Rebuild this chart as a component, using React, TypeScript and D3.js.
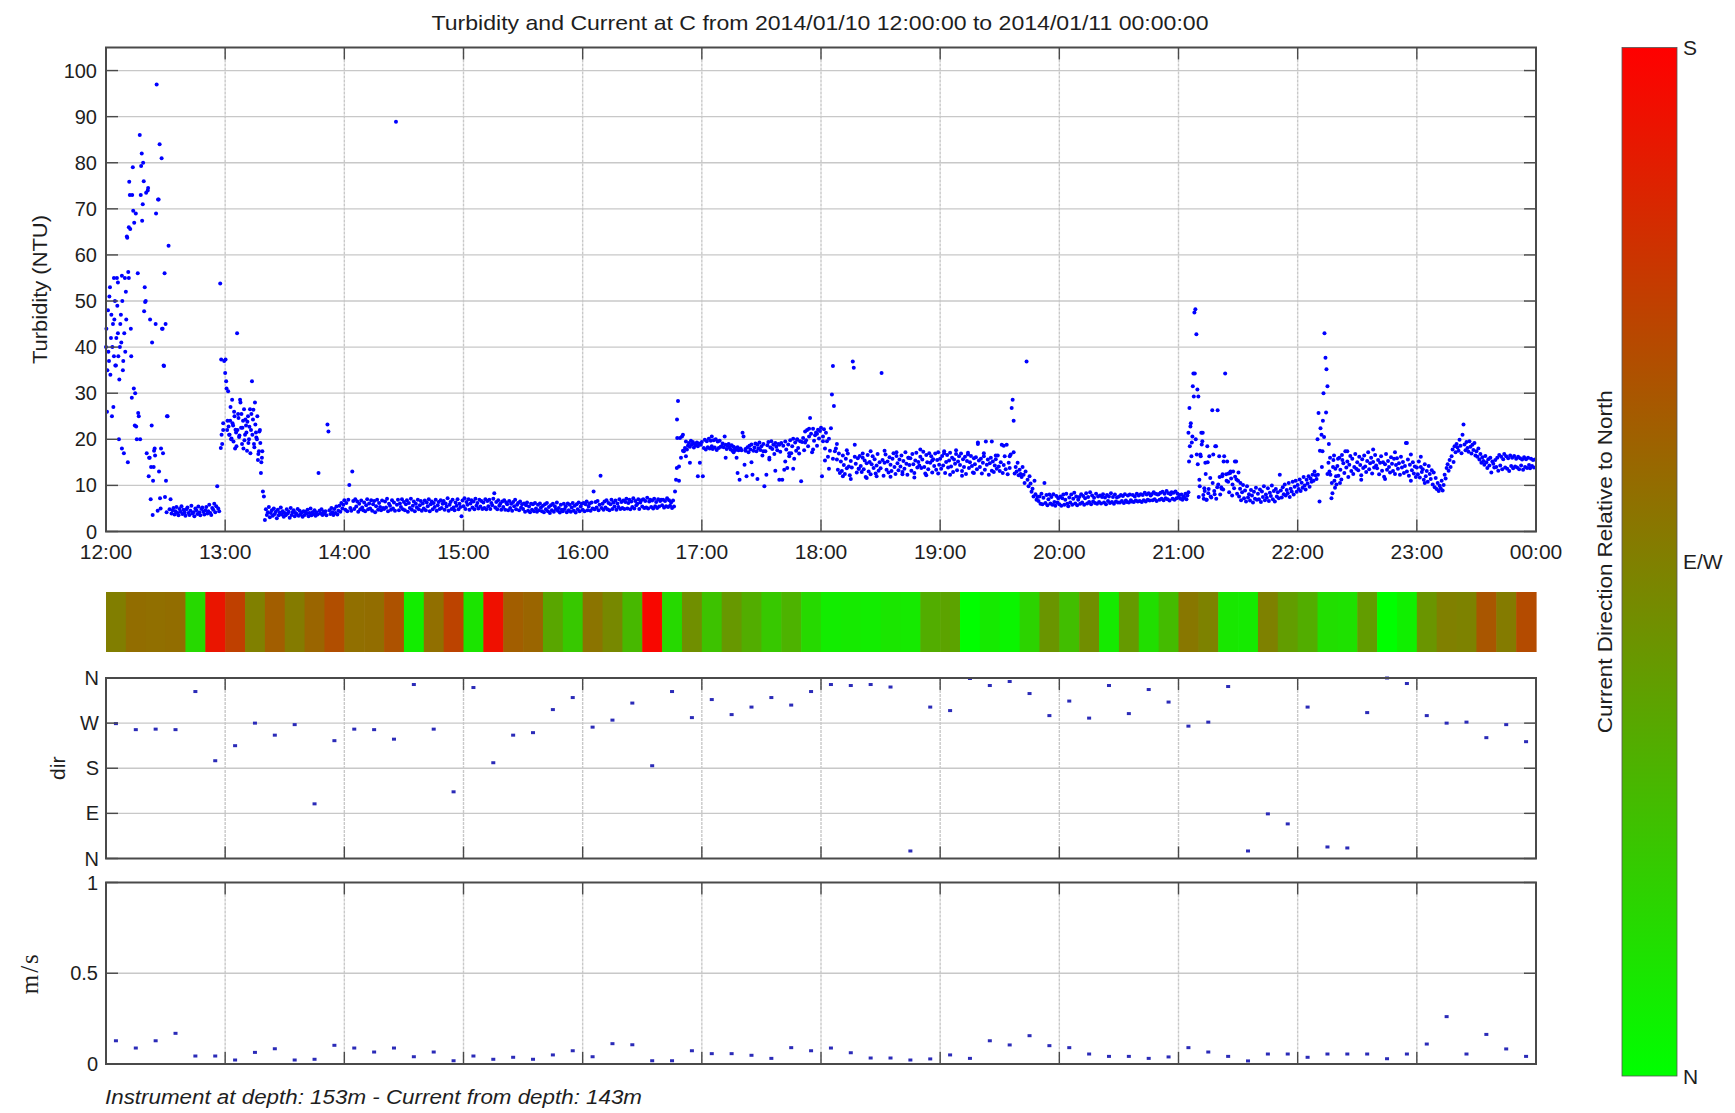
import React from "react";
import * as d3 from "d3";

const TITLE = "Turbidity and Current at C from 2014/01/10 12:00:00 to 2014/01/11 00:00:00";
const FOOTER = "Instrument at depth: 153m - Current from depth: 143m";
const HOUR_LABELS = ["12:00", "13:00", "14:00", "15:00", "16:00", "17:00", "18:00", "19:00", "20:00", "21:00", "22:00", "23:00", "00:00"];
const TURB_TICKS = [0, 10, 20, 30, 40, 50, 60, 70, 80, 90, 100];
const DIR_TICKS = [0, 90, 180, 270, 360];
const DIR_TICK_LABELS = ["N", "E", "S", "W", "N"];
const SPEED_TICKS = [0, 0.5, 1];
const SPEED_TICK_LABELS = ["0", "0.5", "1"];
const COLORBAR_LABELS = ["S", "E/W", "N"];

// turbidity (NTU), one sample every 30 s from 12:00 (rows = 10 minutes)
const TURB_STEP_MIN = 0.5;
const turbidity = [
  40, 26, 48, 37, 53, 42, 25, 45, 38, 50, 36, 55, 43, 20, 40, 47, 18, 35, 17, 55,
  52, 64, 15, 66, 73, 44, 29, 79, 31, 23, 69, 20, 56, 25, 86, 73, 82, 71, 76, 53,
  50, 17, 74, 12, 16, 7, 23, 3.6, 14, 18, 45, 97, 4.5, 72, 84, 5, 81, 44, 36, 56,
  45, 4.2, 25, 62, 4.8, 7, 3.9, 4.6, 5.1, 3.7, 4.4, 5.3, 4.0, 3.5, 4.9, 4.3, 5.5, 3.8, 4.7, 4.1,
  3.4, 4.8, 5.2, 4.0, 3.6, 4.5, 5.6, 3.9, 4.2, 3.3, 5.0, 4.6, 3.8, 5.4, 4.1, 3.5, 4.9, 5.2, 4.3, 3.7,
  4.6, 5.3, 3.9, 4.4, 5.8, 4.0, 3.6, 5.1, 4.7, 6.0, 4.2, 5.5, 9.8, 5.0, 4.4, 53.8, 37.3, 19, 22, 37,
  34.4, 32.6, 22, 30.4, 21, 24, 20, 28.6, 23, 26, 18, 21.5, 43, 25.5, 20.5, 28.6, 22.5, 19, 24, 26.5,
  21, 23, 17.5, 25, 20, 26.5, 22, 32.6, 24.3, 19, 28, 21.5, 20, 15.5, 17.4, 22, 12.7, 16, 8.7, 7.6,
  2.5, 4.8, 3.6, 4.2, 5.3, 3.1, 4.0, 4.6, 3.4, 5.0, 3.8, 4.3, 2.9, 4.7, 3.5, 4.1, 5.2, 3.7, 4.4, 3.2,
  4.0, 3.5, 4.8, 3.9, 4.3, 3.0, 5.1, 3.6, 4.2, 4.6, 3.3, 4.0, 3.8, 4.9, 3.4, 4.5, 3.7, 4.1, 3.2, 4.4,
  3.6, 4.3, 3.9, 4.7, 3.3, 4.0, 5.0, 3.5, 4.2, 3.8, 4.6, 3.4, 4.1, 3.7, 12.7, 4.5, 3.9, 4.8, 3.6, 4.3,
  3.9, 4.4, 3.5, 23.2, 21.7, 4.6, 3.8, 5.1, 4.2, 3.6, 4.9, 4.0, 5.4, 3.7, 4.5, 5.6, 4.3, 6.2, 5.0, 5.8,
  6.8, 4.7, 6.2, 4.4, 6.9, 10.1, 5.1, 4.5, 13.0, 6.6, 4.9, 7.0, 5.4, 6.5, 4.3, 6.0, 4.8, 6.7, 5.2, 4.6,
  6.3, 4.4, 5.7, 7.0, 4.8, 6.1, 5.0, 6.8, 4.5, 5.9, 6.6, 4.2, 5.5, 6.9, 4.7, 6.2, 5.3, 4.6, 6.7, 5.1,
  4.9, 6.5, 5.2, 7.1, 4.4, 6.0, 5.6, 4.7, 6.8, 5.0, 6.3, 4.5, 88.9, 5.8, 6.9, 4.6, 6.1, 5.3, 7.0, 4.8,
  6.4, 4.6, 5.9, 6.8, 4.3, 6.2, 5.1, 7.1, 4.7, 5.6, 6.5, 4.4, 6.0, 5.2, 6.9, 4.8, 5.7, 6.6, 4.5, 6.1,
  5.0, 6.7, 4.6, 6.3, 5.5, 7.0, 4.4, 5.9, 6.5, 4.8, 6.2, 5.3, 6.9, 4.5, 5.7, 6.4, 4.9, 6.8, 5.1, 6.0,
  6.6, 4.7, 6.1, 5.4, 7.2, 4.5, 5.8, 6.4, 4.9, 6.9, 5.2, 4.6, 6.3, 5.6, 7.0, 4.8, 6.0, 5.3, 3.3, 6.7,
  5.5, 7.2, 4.9, 6.4, 5.8, 7.0, 4.7, 6.1, 6.8, 5.2, 6.5, 4.8, 7.1, 5.6, 6.2, 5.0, 6.9, 5.4, 6.6, 4.9,
  6.3, 5.1, 7.0, 4.8, 6.6, 5.5, 6.9, 4.9, 6.2, 5.7, 7.1, 8.3, 5.2, 6.4, 4.8, 6.8, 5.6, 6.0, 4.7, 6.5,
  5.3, 6.8, 4.7, 6.3, 5.9, 4.6, 6.6, 5.1, 6.0, 4.5, 6.4, 5.5, 6.9, 4.8, 5.8, 6.2, 4.6, 6.5, 5.2, 5.9,
  4.9, 6.1, 4.3, 5.7, 6.3, 4.5, 5.4, 4.2, 6.0, 4.7, 5.9, 4.4, 6.2, 5.0, 4.3, 5.8, 4.6, 6.1, 5.2, 4.4,
  5.6, 4.2, 5.9, 4.8, 6.2, 4.4, 5.3, 4.0, 5.7, 4.6, 6.0, 4.3, 5.5, 4.9, 6.3, 4.5, 5.1, 4.1, 5.8, 4.7,
  4.4, 6.0, 4.9, 5.5, 4.2, 6.1, 4.6, 5.8, 4.3, 5.2, 6.2, 4.5, 5.6, 4.1, 5.9, 4.8, 6.3, 4.4, 5.4, 6.0,
  4.7, 6.2, 4.4, 5.9, 6.5, 4.6, 5.4, 6.1, 4.5, 6.3, 5.0, 8.7, 4.8, 6.4, 5.2, 6.6, 4.6, 5.8, 12.1, 5.1,
  6.0, 4.7, 6.5, 5.2, 6.8, 4.8, 6.2, 4.6, 5.9, 6.9, 4.9, 6.3, 5.4, 6.7, 4.7, 6.1, 5.3, 7.0, 4.9, 6.4,
  5.1, 6.7, 4.9, 6.4, 7.1, 5.0, 6.2, 6.9, 4.8, 6.5, 5.3, 7.2, 5.0, 6.6, 5.7, 6.0, 7.0, 4.9, 6.3, 6.8,
  5.4, 7.0, 5.1, 6.6, 5.2, 7.3, 5.0, 6.5, 6.9, 5.3, 6.7, 5.0, 7.1, 5.5, 6.4, 5.1, 7.0, 5.4, 6.6, 6.9,
  5.7, 6.9, 5.2, 6.6, 5.5, 7.2, 5.3, 6.8, 5.6, 6.3, 5.1, 6.7, 5.4, 8.7, 11.2, 24.3, 28.3, 14.1, 20.3, 16.0,
  20.6, 21.0, 17.4, 18.1, 19.5, 17.8, 18.6, 19.2, 18.4, 19.7, 18.9, 19.4, 18.2, 19.0, 18.7, 19.3, 18.5, 19.1, 14.9, 18.8,
  19.4, 12.0, 18.1, 19.9, 17.8, 19.6, 18.3, 20.1, 18.0, 19.7, 18.5, 17.9, 19.8, 18.2, 20.0, 17.7, 19.5, 18.1, 19.7, 18.4,
  18.5, 19.1, 18.3, 20.6, 18.8, 17.9, 18.6, 19.0, 18.2, 17.8, 18.7, 17.5, 18.4, 18.1, 17.7, 16.0, 18.3, 17.6, 11.2, 18.0,
  17.6, 21.4, 20.6, 14.5, 17.9, 12.0, 18.3, 17.2, 18.6, 17.8, 18.9, 12.3, 17.5, 18.2, 19.1, 17.4, 18.8, 18.0, 19.3, 17.7,
  18.5, 16.5, 19.0, 9.8, 17.4, 12.3, 18.7, 19.4, 15.6, 18.2, 19.6, 17.9, 18.8, 16.8, 19.2, 18.4, 17.6, 19.0, 18.8, 17.3,
  19.2, 11.2, 18.6, 13.4, 19.5, 17.8, 13.8, 18.9, 16.3, 19.8, 17.0, 18.5, 20.1, 15.8, 19.3, 17.5, 19.9, 18.1, 16.9, 19.6,
  10.9, 19.4, 20.3, 17.6, 21.7, 19.8, 22.0, 18.5, 20.6, 24.6, 21.2, 17.2, 22.3, 19.7, 20.9, 21.5, 18.6, 22.1, 20.2, 21.8,
  22.5, 12.0, 20.6, 22.2, 18.0, 21.4, 19.6, 16.2, 20.1, 17.5, 22.4, 29.7, 35.9, 27.2, 17.4, 18.0, 15.6, 13.4, 16.9, 12.7,
  15.2, 13.1, 16.5, 14.4, 12.5, 15.8, 13.7, 16.9, 14.1, 12.2, 15.3, 13.9, 36.9, 35.5, 16.2, 14.7, 12.8, 15.9, 13.6, 16.4,
  14.2, 12.9, 16.0, 13.5, 15.4, 11.8, 14.8, 16.6, 13.0, 15.1, 12.4, 14.6, 16.3, 13.8, 15.7, 12.6, 14.3, 16.8, 13.2, 15.0,
  13.7, 34.4, 15.5, 12.1, 14.9, 16.7, 13.4, 15.2, 12.8, 16.1, 14.5, 13.1, 15.8, 17.0, 14.0, 12.5, 16.4, 14.8, 13.3, 15.6,
  14.1, 16.5, 12.9, 15.3, 13.6, 17.2, 14.7, 12.3, 16.0, 14.4, 15.9, 13.2, 16.8, 14.6, 12.7, 15.4, 17.1, 13.9, 15.1, 14.3,
  16.2, 13.8, 15.6, 17.3, 14.0, 12.6, 16.6, 15.0, 13.5, 17.0, 14.9, 16.3, 12.8, 15.7, 14.2, 16.9, 13.4, 15.5, 17.2, 14.5,
  15.8, 13.6, 16.4, 14.3, 17.0, 12.7, 15.1, 16.6, 13.9, 15.4, 17.1, 14.1, 16.0, 12.9, 15.6, 14.7, 16.8, 13.3, 15.2, 16.3,
  14.4, 16.9, 13.1, 15.7, 14.0, 16.2, 12.5, 15.3, 16.7, 13.8, 15.0, 16.4, 14.2, 12.8, 15.9, 14.6, 16.1, 13.5, 19.0, 15.4,
  14.0, 15.8, 12.6, 14.9, 16.3, 13.4, 19.5, 14.5, 15.6, 12.3, 14.8, 16.0, 13.2, 15.2, 12.9, 14.3, 15.7, 13.6, 16.5, 14.1,
  13.1, 15.0, 18.8, 12.7, 14.4, 16.3, 13.5, 18.8, 12.4, 14.9, 13.8, 16.7, 26.8, 28.6, 24.0, 12.6, 14.0, 13.0, 14.9, 12.2,
  13.4, 12.5, 11.8, 14.0, 12.3, 10.5, 13.0, 36.9, 11.2, 9.8, 12.0, 10.4, 8.6, 9.3, 7.6, 11.0, 8.1, 6.9, 7.5, 6.6,
  7.6, 6.0, 8.2, 5.9, 7.3, 10.5, 6.2, 7.9, 5.7, 7.0, 8.0, 6.1, 7.5, 5.8, 8.1, 6.4, 5.6, 7.7, 6.3, 7.2,
  5.9, 7.6, 5.6, 7.2, 8.0, 5.8, 6.9, 8.2, 6.0, 5.5, 7.4, 6.3, 8.0, 5.8, 7.1, 8.4, 6.1, 7.6, 5.7, 6.9,
  7.5, 6.0, 8.1, 6.3, 7.7, 5.8, 7.2, 8.3, 6.1, 7.5, 6.4, 8.5, 5.9, 7.8, 6.5, 7.3, 6.2, 8.2, 6.0, 7.6,
  6.4, 7.8, 6.1, 7.5, 8.1, 6.3, 7.4, 5.9, 7.9, 6.6, 7.6, 6.2, 8.3, 6.4, 7.5, 6.0, 8.0, 6.5, 7.4, 6.3,
  7.6, 6.3, 7.9, 6.6, 7.7, 6.2, 8.1, 6.7, 6.4, 7.8, 6.3, 8.0, 6.8, 6.5, 7.9, 6.4, 7.6, 6.7, 8.2, 6.5,
  7.8, 6.6, 8.1, 6.4, 7.9, 6.8, 8.4, 6.5, 8.0, 6.9, 8.3, 6.7, 7.8, 8.1, 6.8, 8.5, 7.0, 8.2, 6.6, 8.0,
  8.1, 6.9, 8.4, 7.1, 8.6, 6.8, 8.2, 7.2, 8.8, 7.0, 8.3, 6.7, 8.1, 8.5, 7.1, 8.4, 6.9, 8.7, 7.2, 8.2,
  7.4, 7.9, 7.1, 8.0, 6.9, 7.6, 7.3, 8.2, 7.0, 7.8, 8.5, 26.8, 22.8, 16.3, 20.6, 34.3, 47.5, 48.2, 42.8, 30.8,
  29.3, 11.2, 16.7, 21.4, 19.6, 7.9, 9.4, 14.9, 6.9, 18.5, 8.3, 16.3, 11.6, 7.4, 26.3, 16.7, 8.8, 18.5, 7.1, 9.6,
  10.2, 16.3, 8.0, 9.6, 12.0, 9.1, 16.3, 34.3, 12.4, 15.2, 10.8, 8.5, 12.7, 11.5, 7.8, 13.0, 9.4, 11.9, 15.2, 8.2,
  11.0, 7.6, 9.3, 6.8, 8.5, 10.1, 7.2, 8.9, 6.5, 9.8, 7.4, 8.1, 6.7, 9.0, 7.8, 6.3, 8.6, 7.1, 9.5, 6.9,
  8.2, 7.0, 9.1, 6.4, 8.7, 7.5, 9.8, 6.8, 8.0, 7.3, 9.4, 6.6, 8.4, 7.7, 10.0, 7.0, 8.8, 6.5, 9.2, 7.6,
  8.5, 7.2, 12.3, 8.9, 7.4, 9.6, 8.1, 10.2, 7.8, 9.0, 8.3, 10.5, 7.5, 9.3, 8.7, 10.8, 8.0, 9.7, 11.0, 8.6,
  10.1, 9.2, 11.3, 8.8, 10.6, 9.5, 11.8, 10.0, 9.1, 11.2, 10.4, 12.0, 9.7, 11.5, 10.8, 12.3, 11.0, 13.0, 12.2, 11.4,
  20.0, 25.7, 6.5, 22.4, 21.0, 17.4, 30.0, 43.0, 37.7, 35.2, 31.5, 14.9, 13.0, 12.3, 7.2, 8.3, 15.5, 11.0, 13.6, 10.2,
  14.2, 12.1, 16.0, 13.4, 11.3, 15.5, 14.8, 12.7, 17.4, 13.9, 15.2, 11.8, 14.5, 16.4, 13.1, 15.8, 12.5, 14.0, 16.8, 13.6,
  15.0, 13.3, 16.2, 14.4, 12.2, 15.7, 13.8, 16.5, 14.1, 12.9, 15.3, 17.2, 13.5, 14.8, 16.0, 12.6, 15.1, 13.9, 16.6, 14.3,
  13.7, 15.5, 12.4, 14.9, 16.3, 13.2, 15.0, 11.9, 14.6, 16.8, 13.4, 15.3, 14.0, 12.8, 16.1, 14.7, 13.1, 15.8, 12.5, 14.4,
  15.9, 13.6, 14.8, 12.3, 16.2, 13.9, 15.1, 12.7, 14.2, 19.2, 13.0, 15.6, 12.1, 14.5, 16.7, 13.3, 15.0, 12.6, 14.1, 11.8,
  13.9, 12.4, 15.2, 11.7, 14.0, 12.9, 13.5, 11.2, 14.6, 12.0, 13.1, 10.8, 14.2, 12.5, 11.4, 13.3, 10.2, 12.8, 9.6, 11.6,
  9.2, 10.5, 8.8, 9.9, 9.4, 11.0, 8.9, 10.1, 12.3, 11.5, 13.8, 14.6, 13.2, 15.5, 14.0, 16.3, 17.8, 15.1, 18.5, 17.2,
  19.0, 18.2, 17.5, 19.9, 18.6, 17.0, 21.0, 23.2, 18.9, 17.6, 19.4, 18.1, 17.3, 19.6, 18.4, 16.9, 18.8, 17.7, 19.2, 16.5,
  17.4, 16.2, 18.0, 15.6, 16.8, 14.9, 16.1, 15.3, 14.5, 16.4, 15.0, 13.8, 15.7, 14.3, 16.0, 12.8, 15.2, 14.7, 13.9, 15.5,
  14.0, 16.0, 13.2, 16.6, 14.3, 16.2, 13.5, 15.7, 16.8, 13.9, 16.3, 13.6, 15.9, 13.1, 16.5, 14.2, 16.0, 13.7, 16.4, 14.1,
  15.8, 13.9, 16.2, 13.5, 15.9, 14.3, 15.6, 13.4, 16.1, 14.0, 15.7, 13.8, 16.0, 14.4, 13.7, 15.8, 14.2, 15.5, 13.9, 15.6,
];

// additional turbidity readings in the scattered periods: [minutes after 12:00, NTU]
const turbidityExtra = [
  [0.2, 44], [0.7, 35], [1.2, 39], [1.7, 51], [2.2, 34], [2.7, 47], [3.2, 40], [3.7, 27], [4.2, 46], [4.7, 36],
  [5.2, 42], [5.7, 49], [6.2, 38], [6.7, 33], [7.2, 45], [7.7, 41], [8.2, 50], [8.7, 37], [9.2, 43], [9.7, 39],
  [10.2, 46], [10.7, 63.7], [11.2, 56.3], [11.7, 75.9], [12.2, 65.6], [12.7, 38], [13.2, 73], [13.7, 69.6], [14.2, 67], [14.7, 30],
  [15.2, 22.8], [16.2, 25.7], [17.2, 20], [17.7, 79.3], [18.2, 67.4], [18.7, 80], [19.2, 47.8], [19.7, 49.8], [20.2, 73.5], [21.2, 74.5],
  [21.7, 16], [22.2, 46], [22.7, 14], [23.2, 41], [23.7, 11], [24.2, 17.5], [24.7, 16.5], [25.2, 69], [26.2, 72], [26.7, 13],
  [27.2, 7.2], [27.7, 18], [28.2, 44], [28.7, 17], [29.2, 35.9], [29.7, 7.5], [30.2, 11], [30.7, 25], [11.5, 55], [4, 55], [6, 54], [8, 55.5],
  [57.8, 18.1], [58.2, 21], [59, 23.5], [60.2, 37.3], [60.7, 31], [61.2, 24], [61.7, 22.8], [62.2, 21], [62.7, 27], [63.2, 20.2],
  [63.7, 23.5], [64.2, 19.5], [64.7, 25], [65.2, 22.1], [65.7, 18.5], [66.2, 22], [66.7, 24.6], [67.2, 20.8], [67.7, 28], [68.2, 25.5],
  [68.7, 22.5], [69.2, 18], [69.7, 19.8], [70.2, 24.3], [70.7, 21.5], [71.2, 23.8], [71.7, 19.2], [72.2, 22.7], [72.7, 17], [73.2, 25.5],
  [73.7, 21], [74.2, 26.4], [74.7, 18.3], [75.2, 23.2], [75.7, 20.4], [76.2, 25], [76.7, 16.8], [77.2, 21.7], [77.7, 19.2], [78.2, 15], [78.7, 17.4],
  [287.4, 13.8], [287.6, 20.3], [288.5, 11], [290.5, 17.5], [292, 16.3], [294, 14.9], [298, 12], [305, 20.6], [312, 16], [316, 17.2],
  [318, 12.7], [322, 17.5], [325, 15], [328, 11.4], [331, 17.4], [334, 16], [337, 13.2], [339, 11.2], [342, 15.2], [344, 17],
  [346, 13.6], [348, 20], [352, 19.3], [354, 22.3], [356, 17.8], [358, 21.2], [361, 19.6], [362, 15.4], [364, 13.6], [366, 15.8],
  [368, 19], [371, 12], [373, 17.6], [375, 11.4], [377, 18.8], [379, 13.6], [381, 16.9], [383, 11.6], [385, 17.4], [388, 12],
  [392, 17.5], [395, 11.9], [398, 17.2], [401, 12.4], [404, 16], [407, 11.7], [410, 17.8], [413, 12.2], [416, 15.4], [419, 12.6],
  [422, 17.4], [425, 12.3], [428, 17.6], [431, 12.1], [434, 17.1], [437, 12.7], [439, 19.3], [442, 17], [446, 19.5], [448, 16.5],
  [452, 18.6], [455, 16.3], [457, 17.2],
  [545, 21.4], [545.3, 15.2], [545.7, 18.5], [546.2, 23.5], [546.7, 19.3], [547.2, 31.5], [547.7, 29.3], [548.2, 34.3], [548.7, 20], [549.2, 16.7],
  [549.7, 14.6], [550.2, 7.5], [550.7, 9.8], [551.2, 16.3], [551.7, 18.9], [552.2, 21.4], [552.7, 7.1], [553.2, 8.8], [553.7, 12.5], [554.2, 6.9],
  [554.7, 15], [555.2, 9.2], [556.2, 7.6], [557.2, 10.5], [558.2, 8.1], [558.9, 18.5], [559.7, 26.3], [560.7, 11.8], [561.7, 9.3], [562.2, 12.4],
  [562.7, 15.2], [564.2, 11], [565.2, 12.6], [566.2, 13], [567.2, 10.2], [568.4, 15.2], [569.2, 11.3], [570.2, 12.8], [571.2, 10.5],
  [610.2, 12.3], [611.2, 17.5], [612.2, 14], [612.7, 24], [613.3, 20.5], [614.3, 25.8], [615, 12.5], [615.7, 19], [616.3, 16], [617.2, 10.5],
  [617.8, 14], [618.3, 16.5], [618.8, 9.5], [619.3, 12], [620.3, 15.8], [621.3, 10.5], [622.3, 16.6],
  [625, 17.4], [632, 11.2], [638, 17.8], [644, 11.4], [649, 17.2], [655, 19.2], [657, 11], [662, 16.2], [664, 10.5],
];

// current meter, one reading every 10 minutes (minutes after 12:00)
const currentMinutes = [
  5, 15, 25, 35, 45, 55, 65, 75, 85, 95, 105, 115, 125, 135, 145, 155, 165, 175, 185, 195, 205, 215, 225, 235,
  245, 255, 265, 275, 285, 295, 305, 315, 325, 335, 345, 355, 365, 375, 385, 395, 405, 415, 425, 435, 445, 455, 465, 475,
  485, 495, 505, 515, 525, 535, 545, 555, 565, 575, 585, 595, 605, 615, 625, 635, 645, 655, 665, 675, 685, 695, 705, 715,
];
// direction in degrees (0 = N, 90 = E, 180 = S, 270 = W)
const currentDirection = [
  269, 257, 258, 257, 333, 195, 225, 270, 246, 267, 109, 235, 258, 257, 238, 347, 258, 133, 341, 191, 246, 251, 297, 321,
  262, 276, 310, 185, 333, 281, 317, 287, 302, 321, 306, 333, 347, 345, 347, 342, 15, 302, 295, 359, 345, 353, 329, 285,
  314, 280, 345, 289, 337, 312, 264, 272, 343, 15, 89, 69, 302, 23, 21, 291, 360, 349, 285, 270, 272, 241, 267, 233,
];
// speed in m/s
const currentSpeed = [
  0.128, 0.088, 0.128, 0.169, 0.044, 0.044, 0.022, 0.064, 0.084, 0.022, 0.026, 0.103, 0.088, 0.066, 0.088, 0.040, 0.066, 0.018, 0.044, 0.026, 0.037, 0.026, 0.050, 0.073,
  0.040, 0.112, 0.106, 0.018, 0.018, 0.073, 0.057, 0.057, 0.048, 0.031, 0.090, 0.073, 0.088, 0.062, 0.033, 0.033, 0.022, 0.028, 0.050, 0.031, 0.128, 0.105, 0.156, 0.101,
  0.090, 0.055, 0.042, 0.042, 0.031, 0.039, 0.090, 0.066, 0.042, 0.017, 0.055, 0.055, 0.037, 0.055, 0.055, 0.055, 0.029, 0.055, 0.110, 0.261, 0.055, 0.163, 0.083, 0.042,
];

const W = 1735;
const H = 1113;
const X0 = 106;
const X1 = 1536;
const TURB_TOP = 47.5;
const TURB_BOTTOM = 531.5;
const STRIP_TOP = 592;
const STRIP_BOTTOM = 652;
const DIR_TOP = 678;
const DIR_BOTTOM = 858.5;
const SPD_TOP = 882.5;
const SPD_BOTTOM = 1064;
const CB_X = 1622;
const CB_W = 55;
const CB_TOP = 47.5;
const CB_BOTTOM = 1076;

const FONT = "'Liberation Sans', Arial, Helvetica, sans-serif";
const TEXT = "#1e1e1e";
const FRAME = "#4a4a4a";
const GRID = "#c8c8c8";
const TICK_LEN = 12;

const green = "#00ff00";
const red = "#ff0000";
const dirColor = (deg: number) => {
  const d = Math.min(deg % 360, 360 - (deg % 360));
  return d3.interpolateRgb(green, red)(d / 180);
};

function Panel(props: {
  x: d3.ScaleLinear<number, number>;
  y: d3.ScaleLinear<number, number>;
  top: number;
  bottom: number;
  ticks: number[];
  labels: string[];
  labelX: number;
  children?: React.ReactNode;
}) {
  const { x, y, top, bottom, ticks, labels, labelX, children } = props;
  const hours = HOUR_LABELS.map((_, i) => i * 60);
  return (
    <g>
      {hours.slice(1, -1).map((h) => (
        <line key={"vg" + h} x1={x(h)} x2={x(h)} y1={top} y2={bottom} stroke={GRID} strokeWidth={1.4} strokeDasharray="3 1" />
      ))}
      {ticks.filter((t) => y(t) > top + 1 && y(t) < bottom - 1).map((t) => (
        <line key={"hg" + t} x1={X0} x2={X1} y1={y(t)} y2={y(t)} stroke={GRID} strokeWidth={1.3} />
      ))}
      {children}
      <rect x={X0} y={top} width={X1 - X0} height={bottom - top} fill="none" stroke={FRAME} strokeWidth={2} />
      {hours.map((h) => (
        <g key={"xt" + h}>
          <line x1={x(h)} x2={x(h)} y1={bottom} y2={bottom - TICK_LEN} stroke={FRAME} strokeWidth={1.4} />
          <line x1={x(h)} x2={x(h)} y1={top} y2={top + TICK_LEN} stroke={FRAME} strokeWidth={1.4} />
        </g>
      ))}
      {ticks.map((t, i) => (
        <g key={"yt" + t}>
          <line x1={X0} x2={X0 + TICK_LEN} y1={y(t)} y2={y(t)} stroke={FRAME} strokeWidth={1.4} />
          <line x1={X1} x2={X1 - TICK_LEN} y1={y(t)} y2={y(t)} stroke={FRAME} strokeWidth={1.4} />
          <text x={labelX} y={y(t)} dy="0.35em" textAnchor="end" fontSize={20} fill={TEXT}>
            {labels[i]}
          </text>
        </g>
      ))}
    </g>
  );
}

export default function App() {
  const x = d3.scaleLinear().domain([0, 720]).range([X0, X1]);
  const yTurb = d3.scaleLinear().domain([0, 105]).range([TURB_BOTTOM, TURB_TOP]);
  const yDir = d3.scaleLinear().domain([0, 360]).range([DIR_BOTTOM, DIR_TOP]);
  const ySpd = d3.scaleLinear().domain([0, 1]).range([SPD_BOTTOM, SPD_TOP]);

  const turbPoints: [number, number][] = turbidity
    .map((v, i) => [i * TURB_STEP_MIN, v] as [number, number])
    .concat(turbidityExtra as [number, number][]);

  const hours = HOUR_LABELS.map((_, i) => i * 60);
  const cbMid = (CB_TOP + CB_BOTTOM) / 2;

  return (
    <svg
      width={W}
      height={H}
      viewBox={`0 0 ${W} ${H}`}
      style={{ position: "absolute", left: 0, top: 0, display: "block", background: "#ffffff" }}
      fontFamily={FONT}
    >
      <defs>
        <linearGradient id="cbGrad" x1="0" y1="0" x2="0" y2="1">
          <stop offset="0%" stopColor={dirColor(180)} />
          <stop offset="50%" stopColor={dirColor(90)} />
          <stop offset="100%" stopColor={dirColor(0)} />
        </linearGradient>
      </defs>
      <rect x={0} y={0} width={W} height={H} fill="#ffffff" />

      <text x={820} y={30} textAnchor="middle" fontSize={21} fill={TEXT} textLength={777} lengthAdjust="spacingAndGlyphs">
        {TITLE}
      </text>

      {/* Turbidity panel */}
      <Panel x={x} y={yTurb} top={TURB_TOP} bottom={TURB_BOTTOM} ticks={TURB_TICKS} labels={TURB_TICKS.map(String)} labelX={97}>
        {turbPoints.map(([t, v], i) => (
          <circle key={i} cx={x(t)} cy={yTurb(v)} r={2} fill="#0000ff" />
        ))}
      </Panel>
      {hours.map((h, i) => (
        <text key={"xl" + h} x={x(h)} y={559} textAnchor="middle" fontSize={21} fill={TEXT}>
          {HOUR_LABELS[i]}
        </text>
      ))}
      <text transform={`translate(47,${(TURB_TOP + TURB_BOTTOM) / 2}) rotate(-90)`} textAnchor="middle" fontSize={21} fill={TEXT} textLength={149} lengthAdjust="spacingAndGlyphs">
        Turbidity (NTU)
      </text>

      {/* direction colour strip */}
      {currentMinutes.map((t, i) => (
        <rect
          key={"st" + i}
          x={x(t - 5)}
          y={STRIP_TOP}
          width={x(t + 5) - x(t - 5) + 0.6}
          height={STRIP_BOTTOM - STRIP_TOP}
          fill={dirColor(currentDirection[i])}
        />
      ))}

      {/* direction panel */}
      <Panel x={x} y={yDir} top={DIR_TOP} bottom={DIR_BOTTOM} ticks={DIR_TICKS} labels={DIR_TICK_LABELS} labelX={99}>
        {currentMinutes.map((t, i) => (
          <rect key={"d" + i} x={x(t) - 2} y={yDir(currentDirection[i]) - 1.5} width={4} height={3} fill="#2b2bb8" />
        ))}
      </Panel>
      <text transform={`translate(65,${(DIR_TOP + DIR_BOTTOM) / 2}) rotate(-90)`} textAnchor="middle" fontSize={21} fill={TEXT}>
        dir
      </text>

      {/* speed panel */}
      <Panel x={x} y={ySpd} top={SPD_TOP} bottom={SPD_BOTTOM} ticks={SPEED_TICKS} labels={SPEED_TICK_LABELS} labelX={98}>
        {currentMinutes.map((t, i) => (
          <rect key={"s" + i} x={x(t) - 2} y={ySpd(currentSpeed[i]) - 1.5} width={4} height={3} fill="#2b2bb8" />
        ))}
      </Panel>
      <text
        transform={`translate(38,${(SPD_TOP + SPD_BOTTOM) / 2}) rotate(-90)`}
        textAnchor="middle"
        fontSize={25}
        fill={TEXT}
        fontFamily="'Liberation Serif', 'DejaVu Serif', serif"
        letterSpacing={2}
      >
        m/s
      </text>

      <text x={105} y={1104} fontSize={20} fontStyle="italic" fill={TEXT} textLength={537} lengthAdjust="spacingAndGlyphs">
        {FOOTER}
      </text>

      {/* colour bar */}
      <rect x={CB_X} y={CB_TOP} width={CB_W} height={CB_BOTTOM - CB_TOP} fill="url(#cbGrad)" stroke="#555" strokeWidth={0.8} />
      <text x={1683} y={CB_TOP} dy="0.36em" fontSize={21} fill={TEXT}>
        {COLORBAR_LABELS[0]}
      </text>
      <text x={1683} y={cbMid} dy="0.36em" fontSize={21} fill={TEXT}>
        {COLORBAR_LABELS[1]}
      </text>
      <text x={1683} y={CB_BOTTOM} dy="0.36em" fontSize={21} fill={TEXT}>
        {COLORBAR_LABELS[2]}
      </text>
      <text transform={`translate(1612,${cbMid}) rotate(-90)`} textAnchor="middle" fontSize={21} fill={TEXT} textLength={343} lengthAdjust="spacingAndGlyphs">
        Current Direction Relative to North
      </text>
    </svg>
  );
}
